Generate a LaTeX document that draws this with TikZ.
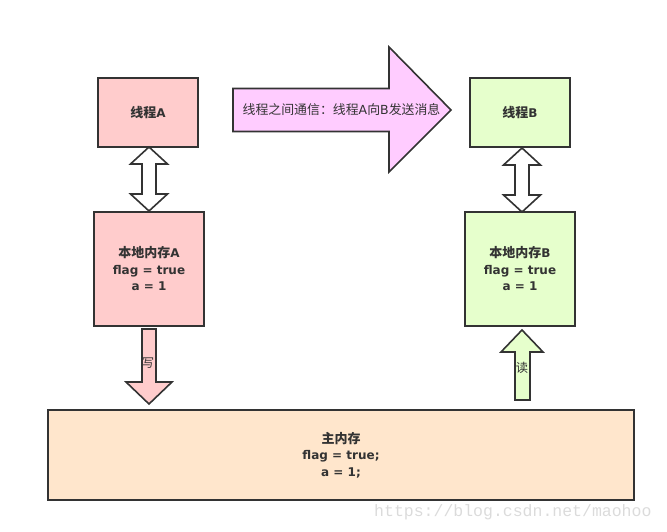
\documentclass[tikz,border=0pt]{standalone}
\usepackage{fontspec}
\setmainfont{DejaVu Sans}
\newfontfamily\cjkfont{Noto Sans CJK SC}
\newfontfamily\wmfont{Liberation Mono}
\newcommand\cj[1]{{\cjkfont\fontsize{13}{16.5}\selectfont #1}}
\newcommand\cjr[1]{{\cjkfont\fontsize{12.3}{14}\selectfont #1}}
\newcommand\cjm[1]{{\cjkfont\fontsize{12.9}{14}\selectfont #1}}
\usetikzlibrary{calc}
\definecolor{stroke}{HTML}{333333}
\definecolor{fillA}{HTML}{FFCCCC}
\definecolor{fillB}{HTML}{E6FFCC}
\definecolor{fillM}{HTML}{FFE6CC}
\definecolor{fillP}{HTML}{FFCCFF}
\tikzset{
  boxstyle/.style={draw=stroke, line width=1.6pt, align=center, inner sep=0pt,
    font=\fontsize{12}{16.5}\selectfont\bfseries, text=stroke},
  blockarrow/.style={draw=stroke, line width=1.6pt, line join=miter},
  lbl/.style={font=\fontsize{12.5}{14}\selectfont, text=stroke, inner sep=0pt}
}
\newcommand\mydblarrow[4]{% x, ytop, ybottom, fill
  \filldraw[blockarrow, fill=#4]
    (#1,#2) -- ++(18.5,17) -- ++(-11.5,0) -- (#1+7,#3-17) -- ++(11.5,0)
    -- (#1,#3) -- ++(-18.5,-17) -- ++(11.5,0) -- (#1-7,#2+17) -- ++(-11.5,0) -- cycle;
}
\begin{document}
\begin{tikzpicture}[x=1pt,y=-1pt]
\useasboundingbox (0,0) rectangle (667,532);
% boxes
\node[boxstyle, fill=fillA, minimum width=100pt, minimum height=69pt] (thA) at (148,112.5) {\cj{线程}A};
\node[boxstyle, fill=fillA, minimum width=110pt, minimum height=114pt] (memA) at (149,269) {\cj{本地内存}A\\flag = true\\a = 1};
\node[boxstyle, fill=fillB, minimum width=100pt, minimum height=69pt] (thB) at (520,112.5) {\cj{线程}B};
\node[boxstyle, fill=fillB, minimum width=110pt, minimum height=114pt] (memB) at (520,269) {\cj{本地内存}B\\flag = true\\a = 1};
\node[boxstyle, fill=fillM, minimum width=586pt, minimum height=90pt] (main) at (341,455) {\cj{主内存}\\flag = true;\\a = 1;};
% double arrows
\mydblarrow{149}{147}{211}{white}
\mydblarrow{522}{148}{212}{white}
% big arrow
\filldraw[blockarrow, fill=fillP] (233,88.5) -- (389,88.5) -- (389,47) -- (451,110) -- (389,172) -- (389,131.5) -- (233,131.5) -- cycle;
\node[lbl] (msg) at (341.5,110) {\cjm{线程之间通信：线程}A\cjm{向}B\cjm{发送消息}};
% write arrow
\filldraw[blockarrow, fill=fillA] (142,329) -- (156,329) -- (156,382) -- (172,382) -- (149,404) -- (126,382) -- (142,382) -- cycle;
\node[lbl] (w) at (148,363) {\cjr{写}};
% read arrow
\filldraw[blockarrow, fill=fillB] (522,330) -- (543,352) -- (530,352) -- (530,400) -- (515,400) -- (515,352) -- (501,352) -- cycle;
\node[lbl] (r) at (522,368) {\cjr{读}};
% watermark
\node[anchor=west, inner sep=0pt, text=black!14, font=\wmfont\fontsize{16.5}{18}\selectfont] (wm) at (374,512) {https://blog.csdn.net/maohoo};
\end{tikzpicture}
\end{document}
